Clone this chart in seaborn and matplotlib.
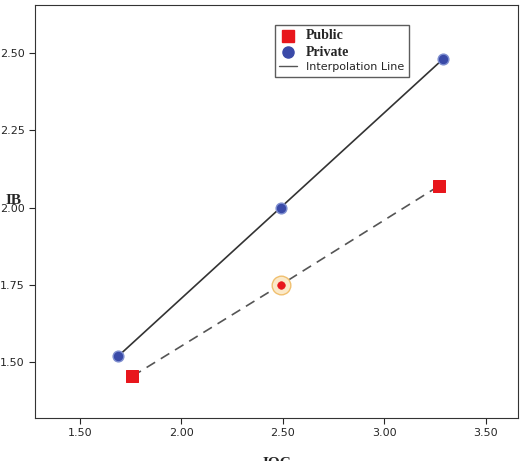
import matplotlib
matplotlib.use("Agg")
import matplotlib.pyplot as plt
import seaborn as sns
import pandas as pd
from matplotlib.lines import Line2D

private_ioc = [1.69, 2.49, 3.29]
private_ib = [1.52, 2.00, 2.48]
public_ioc = [1.76, 2.49, 3.27]
public_ib = [1.455, 1.75, 2.07]

sns.set_style("white")
fig = plt.figure(figsize=(5.2, 4.61), dpi=100)
ax = fig.add_axes([35 / 520, 43 / 461, 483 / 520, 413 / 461])

pub = pd.DataFrame({"IOC": public_ioc, "IB": public_ib})
pri = pd.DataFrame({"IOC": private_ioc, "IB": private_ib})

sns.lineplot(data=pri, x="IOC", y="IB", ax=ax, color="#333333", lw=1.2)
sns.lineplot(data=pub, x="IOC", y="IB", ax=ax, color="#555555", lw=1.2, linestyle=(0, (6, 4)))
# highlight ring on the middle public point
ax.scatter([public_ioc[1]], [public_ib[1]], s=180, facecolor="#fbe9c8", edgecolor="#f0c070", lw=1, zorder=3)
sns.scatterplot(data=pri, x="IOC", y="IB", ax=ax, marker="o", s=60, color="#3a4aa8",
                edgecolor="#8090d0", linewidth=1, zorder=4)
sns.scatterplot(data=pub.iloc[[0, 2]], x="IOC", y="IB", ax=ax, marker="s", s=80, color="#e8161c",
                edgecolor="#e8161c", zorder=4)
sns.scatterplot(data=pub.iloc[[1]], x="IOC", y="IB", ax=ax, marker="o", s=30, color="#e8161c",
                edgecolor="#e8161c", zorder=4)

ax.set_xlim(1.28, 3.66)
ax.set_ylim(1.32, 2.655)
ax.set_xticks([1.5, 2.0, 2.5, 3.0, 3.5])
ax.set_yticks([1.5, 1.75, 2.0, 2.25, 2.5])
ax.set_xticklabels(["1.50", "2.00", "2.50", "3.00", "3.50"])
ax.set_yticklabels(["1.50", "1.75", "2.00", "2.25", "2.50"])
ax.tick_params(labelsize=8, length=4, direction="out", bottom=True, left=True)
ax.set_xlabel("IOC", fontsize=11, fontweight="bold", family="Liberation Serif")
ax.set_ylabel("IB", fontsize=11, fontweight="bold", family="Liberation Serif", rotation=0)
ax.xaxis.set_label_coords(0.5, -0.095)
ax.yaxis.set_label_coords(-0.045, 0.51)
for s in ax.spines.values():
    s.set_color("#333333")

handles = [
    Line2D([], [], marker="s", color="#e8161c", ls="none", markersize=8),
    Line2D([], [], marker="o", color="#3a4aa8", ls="none", markersize=8),
    Line2D([], [], color="#555555", lw=1),
]
leg = ax.legend(handles, ["Public", "Private", "Interpolation Line"], loc="upper left",
                bbox_to_anchor=(0.485, 0.965), fontsize=8, frameon=True, fancybox=False,
                edgecolor="#333333", handlelength=1.6, borderpad=0.4, labelspacing=0.3)
for t in leg.get_texts()[:2]:
    t.set_family("Liberation Serif")
    t.set_fontweight("bold")
    t.set_fontsize(10)

fig.savefig("out.png", dpi=100)
